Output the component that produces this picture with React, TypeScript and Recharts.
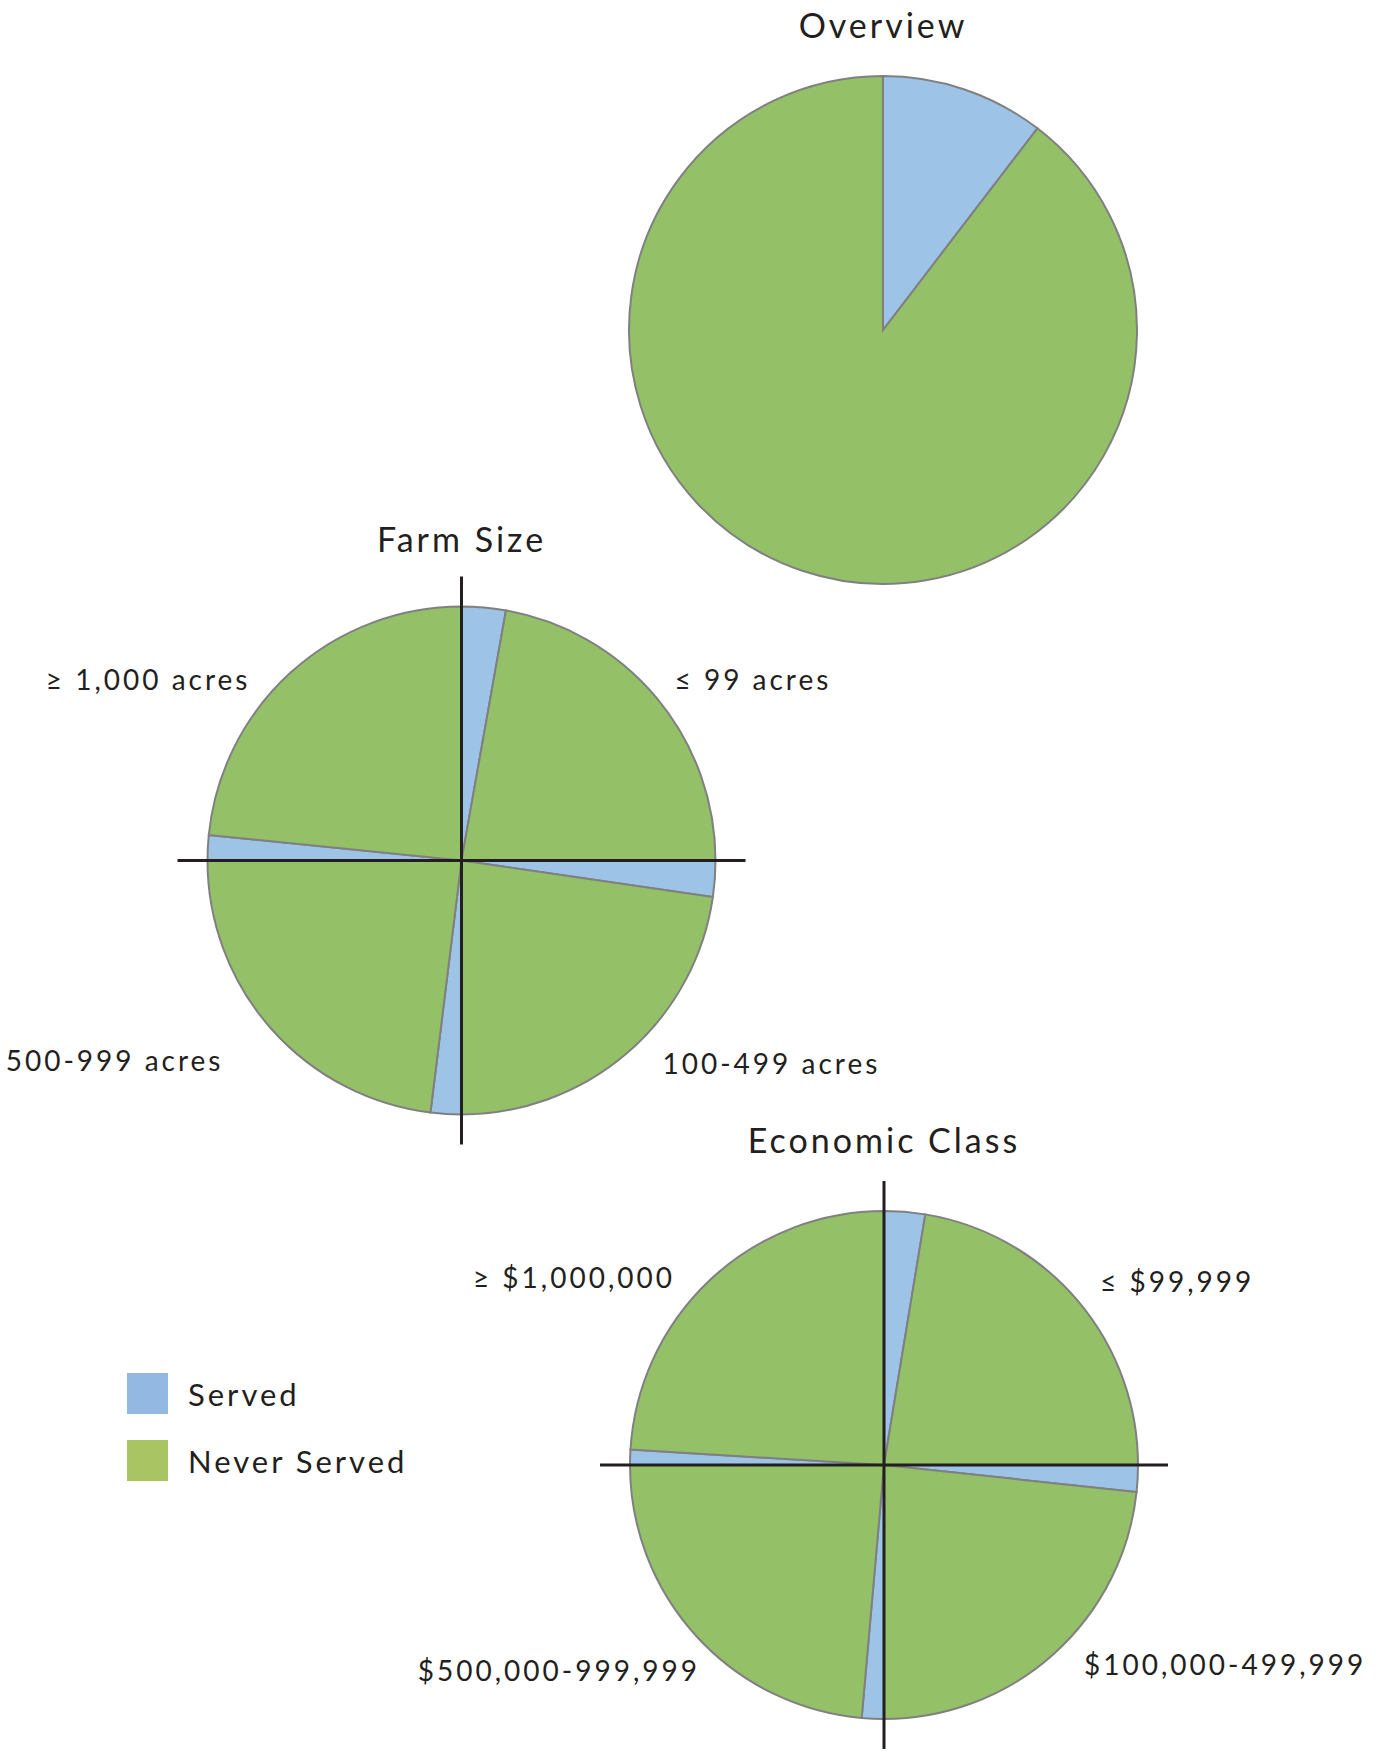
import React from "react";
import { PieChart, Pie, Cell, Legend, Customized } from "recharts";

// values, in percent of each group
const SERIES = ["Served", "Never Served"];

const OVERVIEW_SERVED = [10.4];
const OVERVIEW_NEVER = [89.6];

const FARM_SIZE_GROUPS = ["≤ 99 acres", "100-499 acres", "500-999 acres", "≥ 1,000 acres"];
const FARM_SIZE_SERVED = [11.2, 9.2, 7.8, 6.4];
const FARM_SIZE_NEVER = [88.8, 90.8, 92.2, 93.6];

const ECON_GROUPS = ["≤ $99,999", "$100,000-499,999", "$500,000-999,999", "≥ $1,000,000"];
const ECON_SERVED = [10.4, 6.8, 5.6, 3.9];
const ECON_NEVER = [89.6, 93.2, 94.4, 96.1];

const SLICE_COLORS = ["#9dc3e6", "#94c067"];
const LEGEND_COLORS = ["#93b9e3", "#a9c563"];
const TEXT = "#231f20";
const FONT = "Lato, 'Noto Sans', sans-serif";

const W = 1379;
const H = 1752;
const R = 254;
const CROSS = 284;

const PIES = [
  { key: "overview", title: "Overview", cx: 883, cy: 330, titleY: 24, cross: false },
  { key: "farm", title: "Farm Size", cx: 461.5, cy: 860.5, titleY: 538, cross: true },
  { key: "econ", title: "Economic Class", cx: 884, cy: 1465, titleY: 1139, cross: true },
];

// label placement around each split pie: [dx, dy, anchor]
const FARM_LABEL_POS: [number, number, string][] = [
  [213, -182, "start"],
  [201, 202, "start"],
  [-238, 199, "end"],
  [-211, -182, "end"],
];
const ECON_LABEL_POS: [number, number, string][] = [
  [216, -184, "start"],
  [200, 199, "start"],
  [-184, 205, "end"],
  [-209, -188, "end"],
];

const pairs = (groups: string[], served: number[], never: number[]) =>
  groups.flatMap((g, i) => [
    { name: `${g} ${SERIES[0]}`, value: served[i], s: 0 },
    { name: `${g} ${SERIES[1]}`, value: never[i], s: 1 },
  ]);

const overviewData = pairs(["Overview"], OVERVIEW_SERVED, OVERVIEW_NEVER);
const farmData = pairs(FARM_SIZE_GROUPS, FARM_SIZE_SERVED, FARM_SIZE_NEVER);
const econData = pairs(ECON_GROUPS, ECON_SERVED, ECON_NEVER);

const GroupLabels = ({ groups, pos, cx, cy }: any) => (
  <>
    {groups.map((g: string, i: number) => (
      <text
        key={g}
        x={cx + pos[i][0]}
        y={cy + pos[i][1]}
        textAnchor={pos[i][2]}
        dominantBaseline="central"
        fontFamily={FONT}
        fontSize={28}
        letterSpacing={3}
        fill={TEXT}
      >
        {g}
      </text>
    ))}
  </>
);

const Decorations = () => (
  <g>
    {PIES.map((p) => (
      <text
        key={p.key}
        x={p.cx}
        y={p.titleY}
        textAnchor="middle"
        dominantBaseline="central"
        fontFamily={FONT}
        fontSize={34}
        letterSpacing={3}
        fill={TEXT}
      >
        {p.title}
      </text>
    ))}
    <GroupLabels groups={FARM_SIZE_GROUPS} pos={FARM_LABEL_POS} cx={PIES[1].cx} cy={PIES[1].cy} />
    <GroupLabels groups={ECON_GROUPS} pos={ECON_LABEL_POS} cx={PIES[2].cx} cy={PIES[2].cy} />
  </g>
);

const renderLegend = () => (
  <div style={{ fontFamily: FONT }}>
    {SERIES.map((s, i) => (
      <div
        key={s}
        style={{ display: "flex", alignItems: "center", height: 41, marginBottom: 26 }}
      >
        <div style={{ width: 41, height: 41, background: LEGEND_COLORS[i] }} />
        <span style={{ marginLeft: 20, fontSize: 31, letterSpacing: 3, color: TEXT }}>{s}</span>
      </div>
    ))}
  </div>
);

export default function App() {
  const datasets = [overviewData, farmData, econData];
  return (
    <div style={{ position: "absolute", left: 0, top: 0, width: W, height: H, background: "#fff" }}>
      <PieChart width={W} height={H} margin={{ top: 0, right: 0, bottom: 0, left: 0 }}>
        {PIES.map((p, k) => (
          <Pie
            key={p.key}
            data={datasets[k]}
            dataKey="value"
            nameKey="name"
            cx={p.cx}
            cy={p.cy}
            outerRadius={R}
            startAngle={90}
            endAngle={-270}
            stroke="#808080"
            strokeWidth={2}
            isAnimationActive={false}
            legendType="none"
          >
            {datasets[k].map((d, i) => (
              <Cell key={`c-${i}`} fill={SLICE_COLORS[d.s]} />
            ))}
          </Pie>
        ))}
        <Customized component={Decorations} />
        <Legend
          content={renderLegend}
          wrapperStyle={{ position: "absolute", left: 127, top: 1373, width: 400 }}
        />
      </PieChart>
      {/* axes cross drawn over the split pies */}
      <svg
        width={W}
        height={H}
        style={{ position: "absolute", left: 0, top: 0, pointerEvents: "none" }}
      >
        {PIES.filter((p) => p.cross).map((p) => (
          <g key={`x-${p.key}`} stroke={TEXT} strokeWidth={3}>
            <line x1={p.cx - CROSS} x2={p.cx + CROSS} y1={p.cy} y2={p.cy} />
            <line x1={p.cx} x2={p.cx} y1={p.cy - CROSS} y2={p.cy + CROSS} />
          </g>
        ))}
      </svg>
    </div>
  );
}
